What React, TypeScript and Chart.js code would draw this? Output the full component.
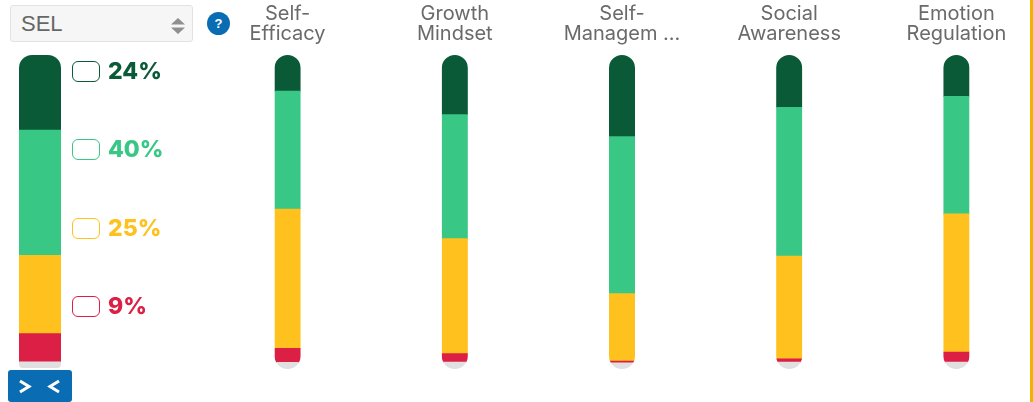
import React, { useEffect, useRef } from "react";
import { Chart, registerables } from "chart.js";

Chart.register(...registerables);

const skills = [
  ["Self-", "Efficacy"],
  ["Growth", "Mindset"],
  ["Self-", "Managem ..."],
  ["Social", "Awareness"],
  ["Emotion", "Regulation"],
];
const advanced = [11.5, 19, 26, 16.7, 13.2];
const proficient = [37.6, 39.5, 50, 47.3, 37.4];
const developing = [44.3, 36.6, 21.5, 32.8, 44];
const beginning = [4.5, 2.7, 0.5, 1, 3.2];
const notAssessed = [2.1, 2.2, 2, 2.2, 2.2];

const overallLabel = ["SEL"];
const overallBands = [24, 40, 25, 9];
const overallRemainder = [2];

const DARK = "#0b5a37";
const GREEN = "#38c785";
const YELLOW = "#fec11d";
const RED = "#dc1f45";
const GRAY = "#e0e0e0";
const BLUE = "#0a6db3";
const bandColors = [DARK, GREEN, YELLOW, RED];
const legendCenters = [71, 149, 228, 306];

// Clips each stacked column to one rounded outline so that only the ends are curved.
const pillClip = {
  id: "pillClip",
  beforeDatasetsDraw(chart: any, _args: any, opts: any) {
    const { ctx, scales } = chart;
    const bars = chart.getDatasetMeta(0).data;
    ctx.save();
    ctx.beginPath();
    bars.forEach((bar: any) => {
      const top = scales.y.getPixelForValue(100);
      const bottom = scales.y.getPixelForValue(0);
      ctx.roundRect(bar.x - bar.width / 2, top, bar.width, bottom - top, [
        opts.top,
        opts.top,
        opts.bottom,
        opts.bottom,
      ]);
    });
    ctx.clip();
  },
  afterDatasetsDraw(chart: any) {
    chart.ctx.restore();
  },
};

const stackedData = (
  labels: any[],
  series: number[][],
) => ({
  labels,
  datasets: series.map((data, i) => ({
    data,
    backgroundColor: [GRAY, RED, YELLOW, GREEN, DARK][i],
    borderWidth: 0,
  })),
});

function useChart(build: (c: HTMLCanvasElement) => Chart) {
  const ref = useRef<HTMLCanvasElement>(null);
  useEffect(() => {
    const chart = build(ref.current!);
    return () => chart.destroy();
  }, []);
  return ref;
}

function OverallBar() {
  const ref = useChart(
    (canvas) =>
      new Chart(canvas, {
        type: "bar",
        plugins: [pillClip],
        data: stackedData(overallLabel, [
          overallRemainder,
          [overallBands[3]],
          [overallBands[2]],
          [overallBands[1]],
          [overallBands[0]],
        ]),
        options: {
          responsive: false,
          animation: false,
          layout: { padding: 0 },
          datasets: { bar: { barThickness: 42 } },
          plugins: {
            legend: { display: false },
            tooltip: { enabled: false },
            pillClip: { top: 13, bottom: 4 },
          } as any,
          scales: {
            x: { stacked: true, display: false },
            y: { stacked: true, display: false, min: 0, max: 100 },
          },
        },
      }),
  );
  return (
    <canvas
      ref={ref}
      width={80}
      height={313}
      style={{ position: "absolute", left: 0, top: 55 }}
    />
  );
}

function SkillBars() {
  const ref = useChart(
    (canvas) =>
      new Chart(canvas, {
        type: "bar",
        plugins: [pillClip],
        data: stackedData(skills, [
          notAssessed,
          beginning,
          developing,
          proficient,
          advanced,
        ]),
        options: {
          responsive: false,
          animation: false,
          layout: { padding: 0 },
          datasets: { bar: { barThickness: 26 } },
          plugins: {
            legend: { display: false },
            tooltip: { enabled: false },
            pillClip: { top: 13, bottom: 13 },
          } as any,
          scales: {
            x: {
              stacked: true,
              position: "top",
              afterFit(scale: any) {
                scale.height = 55;
              },
              grid: { display: false, drawTicks: false },
              border: { display: false },
              ticks: {
                autoSkip: false,
                maxRotation: 0,
                padding: 11,
                color: "#6a6a6a",
                font: { family: "Inter", size: 20, lineHeight: 1 },
              },
            },
            y: { stacked: true, display: false, min: 0, max: 100 },
          },
        },
      }),
  );
  return (
    <canvas
      ref={ref}
      width={836}
      height={369}
      style={{ position: "absolute", left: 203.5, top: 0 }}
    />
  );
}

export default function App() {
  return (
    <div
      style={{
        position: "fixed",
        inset: 0,
        overflow: "hidden",
        background: "#fff",
        fontFamily: "'Liberation Sans', sans-serif",
      }}
    >
      <div
        style={{
          position: "absolute",
          left: 10,
          top: 5,
          width: 183,
          height: 37,
          boxSizing: "border-box",
          background: "#f6f6f6",
          border: "1px solid #e2e2e2",
          borderRadius: 3,
          color: "#666",
          fontSize: 22,
          lineHeight: "35px",
          paddingLeft: 10,
        }}
      >
        SEL
        <svg
          width={14}
          height={16}
          style={{ position: "absolute", left: 160, top: 12 }}
        >
          <path d="M7 0 L14 6.5 H0 Z M0 9.5 H14 L7 16 Z" fill="#8f8f8f" />
        </svg>
      </div>

      <div
        style={{
          position: "absolute",
          left: 207,
          top: 12,
          width: 23,
          height: 23,
          borderRadius: "50%",
          background: BLUE,
          color: "#fff",
          fontSize: 13,
          fontWeight: 700,
          lineHeight: "23px",
          textAlign: "center",
        }}
      >
        ?
      </div>

      <OverallBar />
      <SkillBars />

      {overallBands.map((value, i) => (
        <React.Fragment key={i}>
          <div
            style={{
              position: "absolute",
              left: 72,
              top: legendCenters[i] - 10.5,
              width: 28,
              height: 21,
              boxSizing: "border-box",
              border: `1.5px solid ${bandColors[i]}`,
              borderRadius: 6,
            }}
          />
          <div
            style={{
              position: "absolute",
              left: 108,
              top: legendCenters[i] - 15,
              height: 30,
              lineHeight: "30px",
              color: bandColors[i],
              fontFamily: "Inter",
              fontWeight: 800,
              fontSize: 23,
            }}
          >
            {value}%
          </div>
        </React.Fragment>
      ))}

      <div
        style={{
          position: "absolute",
          left: 8,
          top: 370,
          width: 64,
          height: 32,
          borderRadius: 3,
          background: BLUE,
        }}
      >
        <svg width={64} height={32}>
          <path
            d="M12 11 L21 16.5 L12 22 M51 11 L42 16.5 L51 22"
            fill="none"
            stroke="#fff"
            strokeWidth={3}
          />
        </svg>
      </div>

      <div
        style={{
          position: "absolute",
          left: 1030,
          top: 0,
          width: 3,
          height: 402,
          background: "#f0b400",
        }}
      />
    </div>
  );
}
